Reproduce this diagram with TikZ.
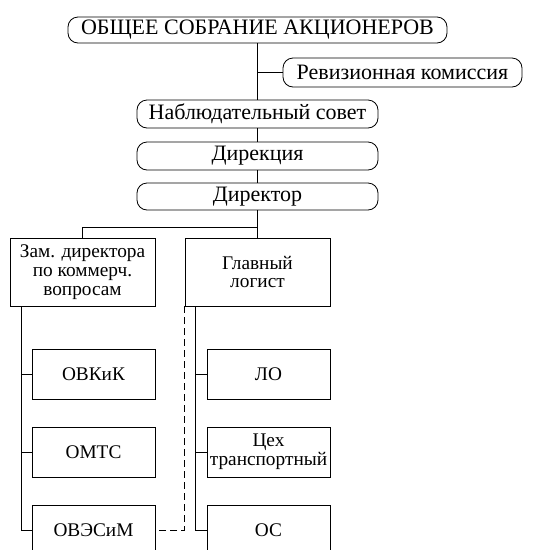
\documentclass[tikz,border=0pt]{standalone}
\usepackage{fontspec}
\setmainfont{Liberation Serif}
\newfontfamily\orgfont{Liberation Serif}
\usepackage{tikz}
\usetikzlibrary{positioning}

\begin{document}
\begin{tikzpicture}[
      x=1pt, y=-1pt,
      line width=0.8pt,
      every node/.style={line width=0.8pt},
      rbox/.style={draw, rounded corners=10pt, inner sep=0pt,
                   minimum height=28pt, text centered,
                   font=\orgfont\fontsize{22}{22}\selectfont},
      ubox/.style={draw, inner sep=0pt, minimum width=145pt,
                   minimum height=68pt, align=center,
                   font=\orgfont\fontsize{19.3}{18.7}\selectfont},
      sbox/.style={draw, inner sep=0pt, minimum width=123pt,
                   minimum height=50pt, align=center,
                   font=\orgfont\fontsize{19.3}{18.7}\selectfont}]

    % Frame: 1 unit = 1 px of the sheet, y grows downwards
    \useasboundingbox (0,0) rectangle (540,550);
    \clip (0,0) rectangle (540,550);

    \def\lx{93.5}       % centre of left column
    \def\rx{268.5}      % centre of right column

    % === Governing bodies ===
    \node[rbox, minimum width=379pt, minimum height=26pt] (gsa) at (257.5,30)
        {ОБЩЕЕ СОБРАНИЕ АКЦИОНЕРОВ};
    \node[rbox, minimum width=239pt, minimum height=29pt] (rev) at (402.5,72.5)
        {Ревизионная комиссия};
    \node[rbox, minimum width=241pt] (nab) at (257.5,114) {Наблюдательный совет};
    \node[rbox, minimum width=241pt] (dirk) at (257.5,156) {Дирекция};
    \node[rbox, minimum width=241pt, minimum height=27pt] (dtr) at (257.5,196.5)
        {Директор};

    % === Second level ===
    \node[ubox] (zam) at (82.5,272) {Зам. директора\\по коммерч.\\вопросам};
    \node[ubox] (glog) at (257.5,272) {Главный\\логист};

    % === Departments ===
    \node[sbox] (ovkik) at (\lx,374) {ОВКиК};
    \node[sbox] (omts)  at (\lx,452) {ОМТС};
    \node[sbox] (oves)  at (\lx,530) {ОВЭСиМ};
    \node[sbox] (lo)    at (\rx,374) {ЛО};
    \node[sbox] (ceh)   at (\rx,452) {Цех\\транспортный};
    \node[sbox] (os)    at (\rx,530) {ОС};

    % Links of the top chain
    \draw (gsa) -- (nab);
    \draw (rev.west) -- (rev.west -| gsa.south);
    \draw (nab) -- (dirk);
    \draw (dirk) -- (dtr);
    \draw (dtr) -- (glog);
    \coordinate (fork) at (257.5,227);
    \draw (zam.north) |- (fork);

    % Trunks down to the departments
    \coordinate (ltr) at (21,306);
    \coordinate (rtr) at (195,306);
    \draw (ltr) |- (oves.west);
    \draw (rtr) |- (os.west);
    \foreach \n in {ovkik,omts} {
        \draw (\n.west) -- (\n.west -| ltr);
    }
    \foreach \n in {lo,ceh} {
        \draw (\n.west) -- (\n.west -| rtr);
    }

    % Dashed link
    \draw[dash pattern=on 7pt off 4pt] (glog.south west) |- (oves.east);

\end{tikzpicture}
\end{document}
